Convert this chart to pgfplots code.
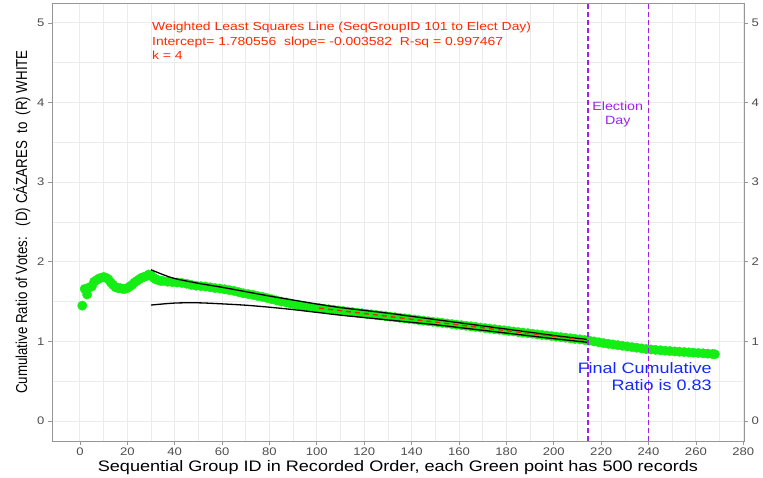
\documentclass[border=0pt]{standalone}
\usepackage{fontspec}
\setmainfont{Liberation Sans}[FakeStretch=1.19]
\newfontfamily\plainsans{Liberation Sans}
\usepackage{pgfplots}
\pgfplotsset{compat=1.18}
\usepackage{pgfplotstable}
\definecolor{ggreen}{RGB}{20,238,20}
\definecolor{gridc}{RGB}{235,235,235}
\definecolor{axc}{RGB}{150,150,150}
\definecolor{tickc}{RGB}{77,77,77}
\definecolor{fitred}{RGB}{235,45,15}
\definecolor{annred}{RGB}{255,40,0}
\definecolor{epurple}{RGB}{160,32,240}
\definecolor{eblue}{RGB}{20,40,255}

\pgfplotstableread{
x y
1 1.45
2 1.66
3 1.59
4 1.68
5 1.69
6 1.75
7 1.77
8 1.79
9 1.80
10 1.81
11 1.80
12 1.78
13 1.74
14 1.71
15 1.68
16 1.67
17 1.67
18 1.66
19 1.66
20 1.67
21 1.69
22 1.71
23 1.74
24 1.76
25 1.78
26 1.80
27 1.81
28 1.82
29 1.84
30 1.83
31 1.80
32 1.78
33 1.77
34 1.76
35 1.76
37 1.75
39 1.745
41 1.74
43 1.735
45 1.725
47 1.71
49 1.70
51 1.695
53 1.69
55 1.68
57 1.67
59 1.665
61 1.655
63 1.645
65 1.635
67 1.62
69 1.605
71 1.595
73 1.585
75 1.57
77 1.56
79 1.545
81 1.53
83 1.515
85 1.50
87 1.49
89 1.475
91 1.46
93 1.45
95 1.44
97 1.43
99 1.425
101 1.418
103 1.411
105 1.404
107 1.397
109 1.389
111 1.383
113 1.375
115 1.368
117 1.361
119 1.354
121 1.347
123 1.340
125 1.333
127 1.326
129 1.318
131 1.311
133 1.304
135 1.297
137 1.290
139 1.283
141 1.276
143 1.268
145 1.261
147 1.254
149 1.247
151 1.240
153 1.233
155 1.226
157 1.218
159 1.211
161 1.204
163 1.197
165 1.190
167 1.183
169 1.175
171 1.168
173 1.161
175 1.154
177 1.147
179 1.140
181 1.132
183 1.125
185 1.118
187 1.111
189 1.104
191 1.097
193 1.089
195 1.082
197 1.075
199 1.068
201 1.061
203 1.054
205 1.047
207 1.040
209 1.032
211 1.026
213 1.019
215 1.010
217 1.000
219 0.990
221 0.980
223 0.970
225 0.962
227 0.953
229 0.945
231 0.937
233 0.929
235 0.921
237 0.913
239 0.905
241 0.899
243 0.894
245 0.889
247 0.884
249 0.879
251 0.875
253 0.871
255 0.867
257 0.863
259 0.859
261 0.855
263 0.851
265 0.847
267 0.842
268 0.840
}\greendata

\pgfplotstableread{
x y
30 1.90
35 1.84
40 1.79
50 1.73
60 1.68
70 1.625
80 1.57
90 1.52
100 1.47
110 1.425
120 1.39
130 1.355
140 1.315
150 1.275
160 1.235
170 1.195
180 1.155
190 1.115
200 1.075
214 1.025
}\upperband

\pgfplotstableread{
x y
30 1.457
40 1.482
50 1.485
60 1.472
70 1.455
80 1.43
90 1.40
100 1.365
110 1.33
120 1.30
130 1.27
140 1.24
150 1.21
160 1.175
170 1.14
180 1.105
190 1.07
200 1.035
214 0.99
}\lowerband

\pgfplotstableread{
x y
101 1.418774
214 1.014008
}\fitline

\begin{document}
\begin{tikzpicture}
\begin{axis}[
  at={(0pt,0pt)}, anchor=south west,
  scale only axis, width=692pt, height=438pt,
  xmin=-11.8, xmax=280.3, ymin=-0.25, ymax=5.25,
  xtick={0,20,...,280}, ytick={0,1,...,5},
  minor x tick num=1, minor y tick num=1,
  grid=both,
  major grid style={draw=gridc, line width=1pt},
  minor grid style={draw=gridc, line width=0.6pt},
  axis line style={draw=axc, line width=0.9pt},
  tick style={draw=axc, line width=0.8pt},
  major tick length=4pt, minor tick length=0pt,
  tick align=outside,
  xtick pos=bottom, ytick pos=left,
  /pgf/number format/assume math mode=true,
  ticklabel style={font=\fontsize{11}{13}\selectfont, text=tickc},
  xticklabel style={yshift=1pt},
  xlabel={Sequential Group ID in Recorded Order, each Green point has 500 records},
  xlabel style={font=\fontsize{15.2}{17}\selectfont, yshift=2pt},
  clip=false, clip marker paths=true, clip mode=individual,
]
\addplot[only marks, mark=*, mark size=4.7pt, color=ggreen, mark options={draw=ggreen, fill=ggreen}] table[x=x,y=y] {\greendata};
\addplot[black, line width=1.3pt, smooth] table[x=x,y=y] {\upperband};
\addplot[black, line width=1.3pt, smooth] table[x=x,y=y] {\lowerband};
\addplot[fitred, line width=1.4pt, dash pattern=on 5pt off 4pt] table[x=x,y=y] {\fitline};
\addplot[epurple, line width=1.8pt, dash pattern=on 5pt off 3pt] coordinates {(214.4,-0.25) (214.4,5.25)};
\addplot[epurple, line width=1.8pt, dash pattern=on 5pt off 3pt] coordinates {(240,-0.25) (240,5.25)};

\node[anchor=base west, text=annred, font=\fontsize{11.7}{13}\selectfont, inner sep=0pt] at (axis cs:30.4,4.904) {Weighted Least Squares Line (SeqGroupID 101 to Elect Day)};
\node[anchor=base west, text=annred, font=\fontsize{11.7}{13}\selectfont, inner sep=0pt] at (axis cs:30.4,4.716) {Intercept= 1.780556\ \ slope= -0.003582\ \ R-sq = 0.997467};
\node[anchor=base west, text=annred, font=\fontsize{11.7}{13}\selectfont, inner sep=0pt] at (axis cs:30.4,4.536) {k = 4};

\node[anchor=base, text=epurple, font=\fontsize{12}{14}\selectfont, inner sep=0pt] at (axis cs:227,3.90) {Election};
\node[anchor=base, text=epurple, font=\fontsize{12}{14}\selectfont, inner sep=0pt] at (axis cs:227,3.73) {Day};

\node[anchor=base east, text=eblue, font=\fontsize{15.1}{17}\selectfont, inner sep=0pt] at (axis cs:266.7,0.60) {Final Cumulative};
\node[anchor=base east, text=eblue, font=\fontsize{15.1}{17}\selectfont, inner sep=0pt] at (axis cs:266.7,0.38) {Ratio is 0.83};

\node[rotate=90, anchor=center, inner sep=0pt] at ([xshift=-30pt]rel axis cs:0,0.5) {\scalebox{1}[1.19]{\plainsans\fontsize{13.3}{15}\selectfont Cumulative Ratio of Votes:\ \ \ (D) CÁZARES\ \ to\ \ (R) WHITE}};
\end{axis}
\begin{axis}[
  at={(0pt,0pt)}, anchor=south west,
  scale only axis, width=692pt, height=438pt,
  xmin=-11.8, xmax=280.3, ymin=-0.25, ymax=5.25,
  axis x line=none, axis y line*=right,
  ytick={0,1,...,5},
  axis line style={draw=axc, line width=0.9pt},
  tick style={draw=axc, line width=0.8pt},
  major tick length=4pt,
  tick align=outside,
  /pgf/number format/assume math mode=true,
  ticklabel style={font=\fontsize{11}{13}\selectfont, text=tickc},
]
\end{axis}
\pgfresetboundingbox
\path[use as bounding box] (-52pt,-37pt) rectangle (711pt,441pt);
\end{tikzpicture}
\end{document}
